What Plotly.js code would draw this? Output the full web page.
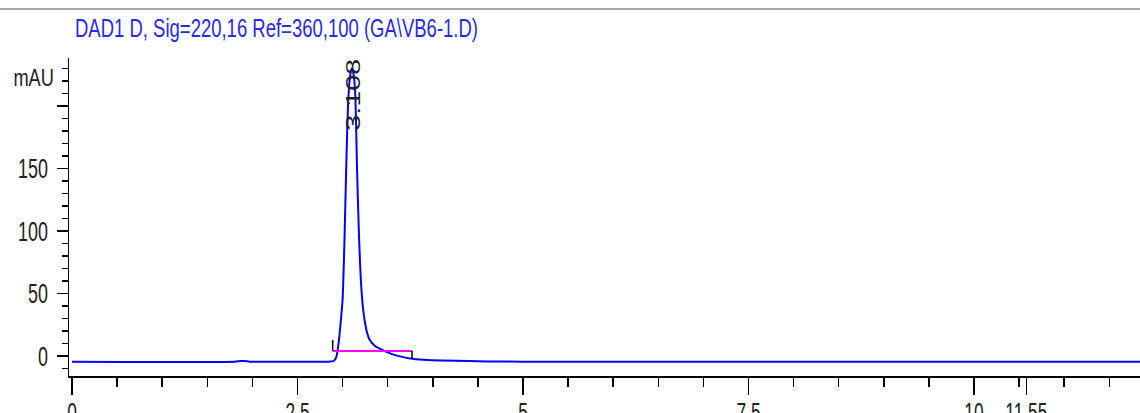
<!DOCTYPE html>
<html><head><meta charset="utf-8">
<script src="https://cdn.plot.ly/plotly-3.0.1.min.js"></script>
<style>html,body{margin:0;padding:0;background:#fff;overflow:hidden}</style>
</head><body>
<div id="chart" style="width:1140px;height:413px"></div>
<script>
// Chromatogram signal (time in min, absorbance in mAU)
const timeMin = [0, 1.80, 1.87, 1.92, 1.97, 2.80, 2.85, 2.90, 2.93, 2.96, 2.98, 3.00, 3.02, 3.04, 3.06, 3.08, 3.10, 3.12, 3.14, 3.16, 3.18, 3.195, 3.21, 3.23, 3.25, 3.27, 3.30, 3.36, 3.45, 3.55, 3.65, 3.75, 3.90, 4.10, 4.40, 4.60, 5.00, 8.00, 11.84];
const signalMAU = [-4.5, -4.5, -4.0, -4.0, -4.5, -4.5, -4.5, -4.0, -1, 13, 28, 45, 90, 150, 200, 222, 230, 226, 210, 150, 100, 72, 52, 36, 26, 19, 13, 8, 4.5, 1.5, -0.5, -2, -3, -3.6, -4.0, -4.4, -4.5, -4.5, -4.5];

// Integration baseline and its start/end marks
const intBaseT = [2.89, 3.77];
const intBaseV = [4, 4];
const intStartT = [2.89, 2.89];
const intStartV = [4, 12.8];
const intEndT = [3.77, 3.77];
const intEndV = [4, -2.4];

// Peak label
const peakT = [3.104];
const peakV = [209.6];
const peakLabel = ["3.108"];

// Axis ticks
const xTickVals = [0, 2.5, 5, 7.5, 10, 10.58];
const xTickText = ["0", "2.5", "5", "7.5", "10", "11.55"];
const yTickVals = [0, 50, 100, 150, 200];
const yTickText = ["0", "50", "100", "150", ""];

const FONT = "Liberation Sans, Arial, sans-serif";

const traces = [
  {x: timeMin, y: signalMAU, mode: "lines", line: {color: "#0000ff", width: 2, shape: "spline", smoothing: 0.6}, hoverinfo: "skip"},
  {x: intBaseT, y: intBaseV, mode: "lines", line: {color: "#ff00ff", width: 2}, hoverinfo: "skip"},
  {x: intStartT, y: intStartV, mode: "lines", line: {color: "#000", width: 1.5}, hoverinfo: "skip"},
  {x: intEndT, y: intEndV, mode: "lines", line: {color: "#000", width: 1.5}, hoverinfo: "skip"}
];

const axisCommon = {
  showgrid: false, zeroline: false, showline: true, linecolor: "#000", linewidth: 1.5,
  ticks: "outside", tickcolor: "#000", tickwidth: 1.5, tickmode: "array",
  tickfont: {family: FONT, size: 28, color: "#222"}, fixedrange: true
};

const layout = {
  width: 1140, height: 413,
  margin: {l: 69, r: 0, t: 58, b: 37, pad: 0},
  paper_bgcolor: "#fff", plot_bgcolor: "#fff",
  showlegend: false,
  title: {
    text: "DAD1 D, Sig=220,16 Ref=360,100 (GA\\VB6-1.D)",
    font: {family: FONT, size: 25, color: "#2a2ae6"},
    xref: "container", x: 75 / 1140, xanchor: "left",
    yref: "container", y: 1 - 28 / 413, yanchor: "middle"
  },
  xaxis: Object.assign({}, axisCommon, {
    range: [-0.033, 11.84], ticklen: 17, ticklabelstandoff: -6,
    tickvals: xTickVals, ticktext: xTickText,
    minor: {tickmode: "linear", tick0: 0, dtick: 0.5, ticklen: 9, tickwidth: 1.5, tickcolor: "#000", ticks: "outside"}
  }),
  yaxis: Object.assign({}, axisCommon, {
    range: [-16, 238.4], ticklen: 11, ticklabelstandoff: 3,
    tickvals: yTickVals, ticktext: yTickText,
    minor: {tickmode: "linear", tick0: 0, dtick: 10, ticklen: 6, tickwidth: 1.5, tickcolor: "#000", ticks: "outside"}
  }),
  annotations: [
    {text: peakLabel[0], x: peakT[0], y: peakV[0], xref: "x", yref: "y", showarrow: false,
     textangle: -90, font: {family: FONT, size: 21, color: "#222"}, xanchor: "center", yanchor: "middle"},
    {text: "mAU", xref: "paper", yref: "paper", x: (33 - 69) / 1071, y: (376 - 77) / 318,
     showarrow: false, xanchor: "center", yanchor: "middle", font: {family: FONT, size: 24, color: "#222"}}
  ],
  shapes: [
    {type: "line", xref: "paper", yref: "paper", x0: -69 / 1071, x1: 1, y0: (376 - 9) / 318, y1: (376 - 9) / 318,
     line: {color: "#8a8a8a", width: 1.5}}
  ]
};

function condense(gd) {
  const apply = (sel, s) => {
    gd.querySelectorAll(sel).forEach(t => {
      const x = parseFloat(t.getAttribute("x") || 0);
      const tr = t.getAttribute("transform") || "";
      t.setAttribute("transform", tr + " translate(" + x + ",0) scale(" + s + ",1) translate(" + (-x) + ",0)");
    });
  };
  apply(".xtick text", 0.62);
  apply(".ytick text", 0.64);
  apply(".gtitle", 0.74);
  const anns = gd.querySelectorAll(".annotation-text");
  if (anns[0]) { const x = parseFloat(anns[0].getAttribute("x") || 0); anns[0].setAttribute("transform", (anns[0].getAttribute("transform")||"") + " translate(" + x + ",0) scale(1.37,1) translate(" + (-x) + ",0)"); }
  if (anns[1]) { const x = parseFloat(anns[1].getAttribute("x") || 0); anns[1].setAttribute("transform", (anns[1].getAttribute("transform")||"") + " translate(" + x + ",0) scale(0.76,1) translate(" + (-x) + ",0)"); }
}

Plotly.newPlot("chart", traces, layout, {displayModeBar: false, staticPlot: true}).then(condense);
</script>
</body></html>
